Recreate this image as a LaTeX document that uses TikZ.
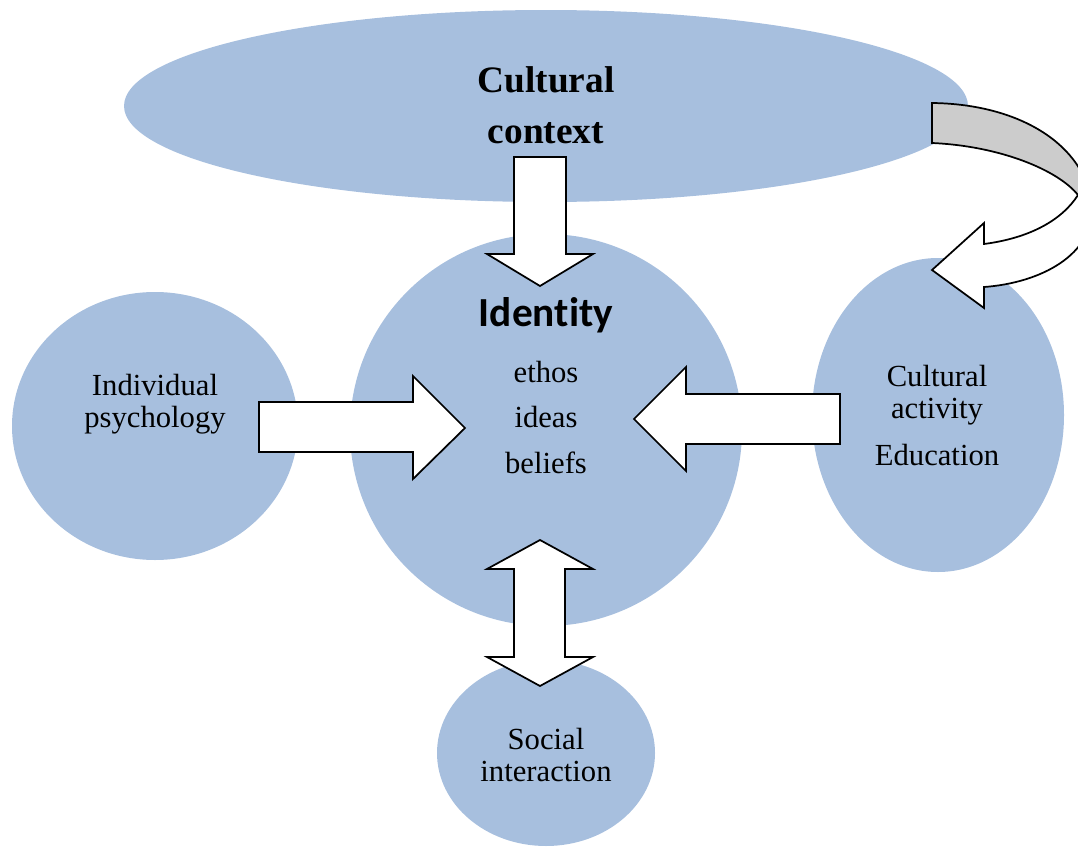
\documentclass[tikz,border=0pt]{standalone}
\usepackage{fontspec}
\setmainfont{Liberation Serif}
\newfontfamily\calibri[Ligatures=NoCommon]{Carlito}
\usetikzlibrary{shapes.geometric}
\definecolor{blob}{HTML}{A7BFDE}
\definecolor{foldgrey}{HTML}{CCCCCC}
\tikzset{
  blobshape/.style={ellipse, fill=blob, draw=none, inner sep=0pt, outer sep=0pt},
  blockarrow/.style={fill=white, draw=black, line width=1.3pt, line join=miter},
  serif/.style={anchor=base, inner sep=0pt, font=\fontsize{23}{23}\selectfont},
  title/.style={anchor=base, inner sep=0pt, font=\fontsize{28}{28}\selectfont\bfseries},
}
\begin{document}
\begin{tikzpicture}[x=0.75pt,y=-0.75pt]
\useasboundingbox (0,0) rectangle (1078,846);
\clip (0,0) rectangle (1078,846);
% blobs
\node[blobshape, minimum width=633pt, minimum height=144pt] (ctx) at (546,106) {};
\node[blobshape, minimum width=294pt, minimum height=294pt] (id) at (546,430) {};
\node[blobshape, minimum width=214.5pt, minimum height=201pt] (ind) at (155,426) {};
\node[blobshape, minimum width=189pt, minimum height=235.5pt] (act) at (938,415) {};
\node[blobshape, minimum width=163.5pt, minimum height=139.5pt] (soc) at (546,753) {};
% texts
\node[title] (t1) at (546,92) {Cultural};
\node[title] (t2) at (546,143) {context};
\node[anchor=base, inner sep=0pt, font=\calibri\bfseries\fontsize{31}{31}\selectfont] (t3) at (546,326) {Identity};
\node[serif] (t4) at (546,382) {ethos};
\node[serif] (t5) at (546,427) {ideas};
\node[serif] (t6) at (546,473) {beliefs};
\node[serif] (t7) at (155,395) {Individual};
\node[serif] (t8) at (155,427) {psychology};
\node[serif] (t9) at (937,386) {Cultural};
\node[serif] (t10) at (937,418) {activity};
\node[serif] (t11) at (937,465) {Education};
\node[serif] (t12) at (546,749) {Social};
\node[serif] (t13) at (546,781) {interaction};
% block arrows
\draw[blockarrow] (514,157) -- (566,157) -- (566,254) -- (593,254) -- (540,286) -- (487,254) -- (514,254) -- cycle;
\draw[blockarrow] (259,402) -- (413,402) -- (413,376) -- (465,428) -- (413,479) -- (413,452) -- (259,452) -- cycle;
\draw[blockarrow] (840,394) -- (686,394) -- (686,367) -- (634,419) -- (686,471) -- (686,444) -- (840,444) -- cycle;
\draw[blockarrow] (540,540) -- (593,569) -- (565,569) -- (565,657) -- (593,657) -- (540,686) -- (487,657) -- (514,657) -- (514,569) -- (487,569) -- cycle;
% curved arrow
\draw[blockarrow] (1092,205) .. controls (1095,255) and (1040,283) .. (984,287)
  -- (984,308) -- (932,270) -- (984,223) -- (984,244)
  .. controls (1030,238) and (1062,220) .. (1078,195) -- cycle;
\draw[blockarrow, fill=foldgrey] (932,103) .. controls (1020,104) and (1085,145) .. (1092,205)
  -- (1078,195) .. controls (1058,170) and (1000,146) .. (932,143) -- cycle;
\end{tikzpicture}
\end{document}
